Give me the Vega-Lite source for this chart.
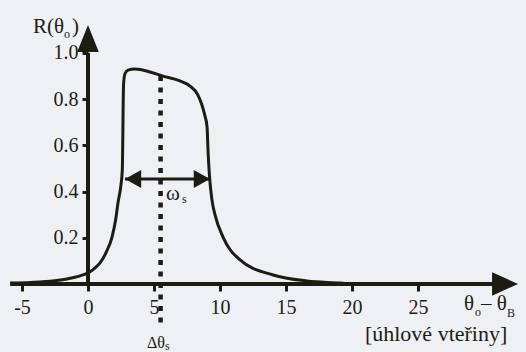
{
  "$schema": "https://vega.github.io/schema/vega-lite/v6.json",
  "width": 526,
  "height": 352,
  "autosize": {"type": "none"},
  "padding": 0,
  "background": "#eef0f3",
  "config": {"view": {"stroke": null}, "font": "Liberation Serif"},
  "encoding": {
    "x": {"field": "x", "type": "quantitative",
      "scale": {"domain": [-6.6667, 33.1818], "nice": false, "zero": false},
      "axis": {"values": [-5, 0, 5, 10, 15, 20, 25], "offset": -68, "domain": false, "grid": false,
        "tickSize": 7, "tickWidth": 3, "tickColor": "#1c1c14", "labelFont": "Liberation Serif",
        "labelFontSize": 20, "labelColor": "#1c1c14", "labelPadding": 6, "title": null,
        "labelFlush": false, "labelOverlap": false, "labelExpr": "replace(datum.label, '−', '-')"}},
    "y": {"field": "R", "type": "quantitative",
      "scale": {"domain": [-0.2944, 1.2294], "nice": false, "zero": false},
      "axis": {"values": [0.2, 0.4, 0.6, 0.8, 1.0], "format": ".1f", "offset": -88, "domain": false, "grid": false,
        "tickSize": 6, "tickWidth": 3, "tickColor": "#1c1c14", "labelFont": "Liberation Serif",
        "labelFontSize": 20, "labelColor": "#1c1c14", "labelPadding": 4, "title": null,
        "labelOverlap": false}}
  },
  "layer": [
    {
      "data": {"values": [
        {"x": -5.9, "x2": 31.0, "R": 0, "R2": 0},
        {"x": 0, "x2": 0, "R": 0, "R2": 1.0}
      ]},
      "mark": {"type": "rule", "color": "#1c1c14", "strokeWidth": 4},
      "encoding": {"x2": {"field": "x2"}, "y2": {"field": "R2"}}
    },
    {
      "data": {"values": [{"x": 0, "R": 1.121}]},
      "mark": {"type": "point", "shape": "M0,0L0.8,2L-0.8,2Z", "size": 729, "filled": true, "opacity": 1, "color": "#1c1c14", "strokeWidth": 0}
    },
    {
      "data": {"values": [{"x": 32.58, "R": 0}]},
      "mark": {"type": "point", "shape": "M0,0L-2,-0.9L-2,0.9Z", "size": 676, "filled": true, "opacity": 1, "color": "#1c1c14", "strokeWidth": 0}
    },
    {
      "data": {"values": [{"x": 5.5, "R": 0.9, "R2": -0.19}]},
      "mark": {"type": "rule", "color": "#1c1c14", "strokeWidth": 4.5, "strokeDash": [5, 6.5], "strokeCap": "butt"},
      "encoding": {"y2": {"field": "R2"}}
    },
    {
      "data": {"values": [
        {"x": -5.9, "R": 0.004}, {"x": -3.64, "R": 0.009}, {"x": -1.59, "R": 0.022}, {"x": -0.61, "R": 0.035},
        {"x": 0, "R": 0.048}, {"x": 0.5, "R": 0.068}, {"x": 0.91, "R": 0.091}, {"x": 1.4, "R": 0.14},
        {"x": 1.82, "R": 0.203}, {"x": 2.1, "R": 0.28}, {"x": 2.27, "R": 0.351}, {"x": 2.5, "R": 0.43},
        {"x": 2.6, "R": 0.494}, {"x": 2.63, "R": 0.6}, {"x": 2.65, "R": 0.7}, {"x": 2.67, "R": 0.8},
        {"x": 2.7, "R": 0.87}, {"x": 2.8, "R": 0.91}, {"x": 3.03, "R": 0.926}, {"x": 3.56, "R": 0.931},
        {"x": 4.7, "R": 0.918}, {"x": 5.68, "R": 0.9}, {"x": 6.97, "R": 0.879}, {"x": 7.73, "R": 0.857},
        {"x": 8.33, "R": 0.818}, {"x": 8.6, "R": 0.78}, {"x": 8.85, "R": 0.73}, {"x": 9.02, "R": 0.68},
        {"x": 9.09, "R": 0.58}, {"x": 9.2, "R": 0.47}, {"x": 9.39, "R": 0.364}, {"x": 9.62, "R": 0.3},
        {"x": 10.23, "R": 0.203}, {"x": 11.52, "R": 0.104}, {"x": 14.02, "R": 0.039}, {"x": 16.59, "R": 0.013},
        {"x": 19.09, "R": 0.004}, {"x": 20, "R": 0}
      ]},
      "mark": {"type": "line", "color": "#1c1c14", "strokeWidth": 3, "interpolate": "monotone"}
    },
    {
      "data": {"values": [{"x": 2.8, "x2": 9.24, "R": 0.455}]},
      "mark": {"type": "rule", "color": "#1c1c14", "strokeWidth": 3},
      "encoding": {"x2": {"field": "x2"}}
    },
    {
      "data": {"values": [{"x": 2.8, "R": 0.455}]},
      "mark": {"type": "point", "shape": "M0,0L1.8,-1L1.8,1Z", "size": 324, "filled": true, "opacity": 1, "color": "#1c1c14", "strokeWidth": 0}
    },
    {
      "data": {"values": [{"x": 9.24, "R": 0.455}]},
      "mark": {"type": "point", "shape": "M0,0L-1.8,-1L-1.8,1Z", "size": 324, "filled": true, "opacity": 1, "color": "#1c1c14", "strokeWidth": 0}
    },
    {
      "data": {"values": [
        {"x": -4.167, "R": 1.087, "t": "R(θ"},
        {"x": -1.21, "R": 1.087, "t": ")"},
        {"x": 28.48, "R": -0.113, "t": "θ"},
        {"x": 29.77, "R": -0.113, "t": "– θ"},
        {"x": 5.91, "R": 0.364, "t": "ω"}
      ]},
      "mark": {"type": "text", "align": "left", "baseline": "alphabetic", "font": "Liberation Serif", "fontSize": 21, "color": "#1c1c14"},
      "encoding": {"text": {"field": "t"}}
    },
    {
      "data": {"values": [{"x": 20.98, "R": -0.247, "t": "[úhlové vteřiny]"}]},
      "mark": {"type": "text", "align": "left", "baseline": "alphabetic", "font": "Liberation Serif", "fontSize": 22, "color": "#1c1c14"},
      "encoding": {"text": {"field": "t"}}
    },
    {
      "data": {"values": [{"x": 4.47, "R": -0.277, "t": "Δθ"}]},
      "mark": {"type": "text", "align": "left", "baseline": "alphabetic", "font": "Liberation Serif", "fontSize": 16, "color": "#1c1c14"},
      "encoding": {"text": {"field": "t"}}
    },
    {
      "data": {"values": [
        {"x": -1.82, "R": 1.065, "t": "o"},
        {"x": 29.32, "R": -0.139, "t": "o"},
        {"x": 31.74, "R": -0.143, "t": "B"},
        {"x": 7.12, "R": 0.351, "t": "s"},
        {"x": 5.83, "R": -0.287, "t": "s"}
      ]},
      "mark": {"type": "text", "align": "left", "baseline": "alphabetic", "font": "Liberation Serif", "fontSize": 12, "color": "#1c1c14"},
      "encoding": {"text": {"field": "t"}}
    }
  ]
}
